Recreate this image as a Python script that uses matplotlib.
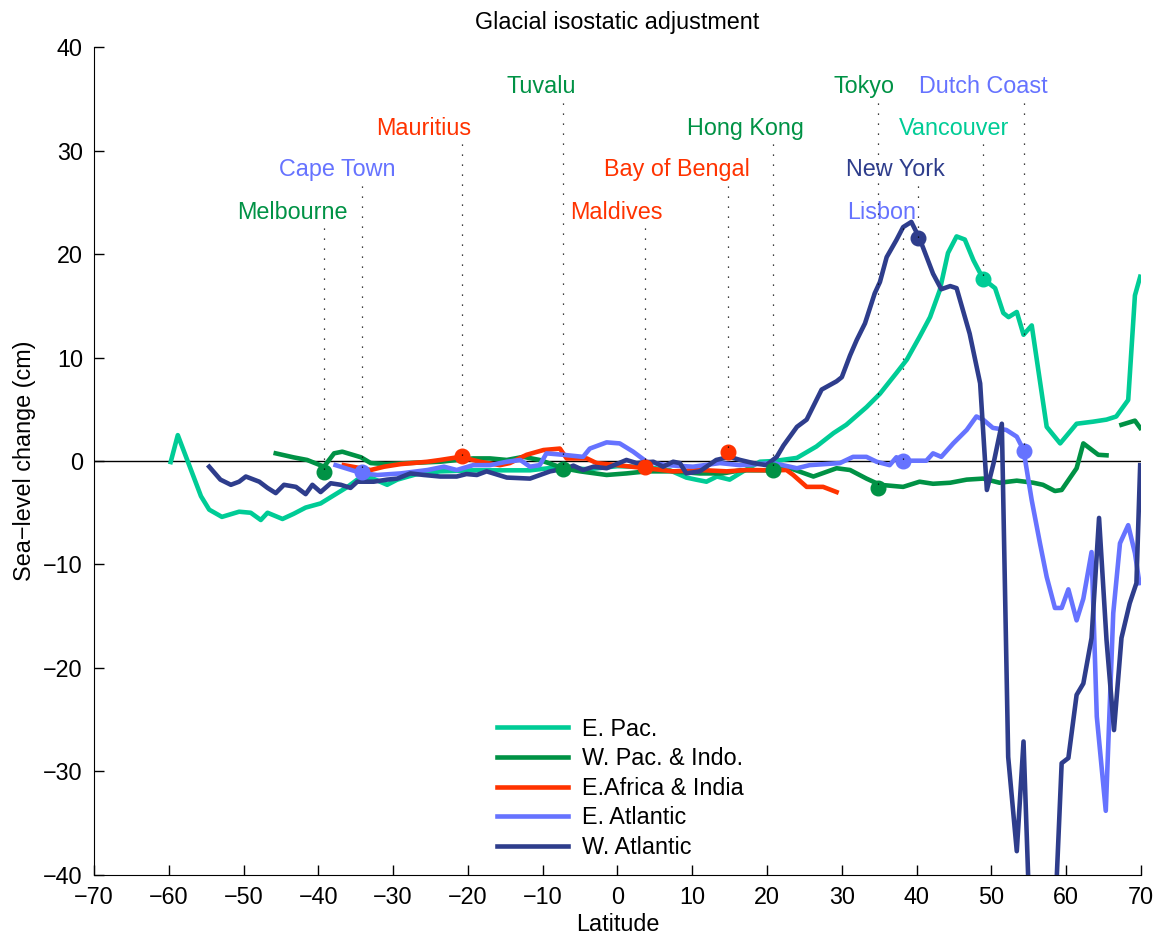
import numpy as np
import matplotlib
matplotlib.use('Agg')
import matplotlib.pyplot as plt

plt.rcParams['font.family'] = ['Liberation Sans', 'DejaVu Sans']
plt.rcParams['font.size'] = 16.8

# series: latitude / sea-level change (cm)
epac_lat = [-59.75, -58.8, -55.7, -54.6, -52.9, -50.6, -49.05, -47.7, -46.8, -44.8, -43.3, -41.7,
            -39.7, -37.9, -36.1, -34.8, -33.0, -30.8, -29.45, -27.0, -23.7, -19.3, -14.8, -11.7,
            -8.0, -4.0, 0.0, 4.0, 7.0, 9.2, 10.5, 11.9, 13.3, 15.0, 16.8, 19.05, 21.0, 24.0, 26.6,
            28.9, 30.6, 33.3, 35.1, 37.3, 38.7, 40.4, 41.8, 43.1, 44.2, 45.35, 46.45, 47.6, 48.9,
            50.5, 51.6, 52.3, 53.4, 54.3, 55.4, 57.4, 59.2, 61.4, 63.6, 65.4, 66.7, 68.3, 69.2, 69.9]
epac_val = [-0.1, 2.5, -3.4, -4.7, -5.4, -4.9, -5.0, -5.7, -5.0, -5.6, -5.1, -4.5,
            -4.1, -3.3, -2.5, -1.8, -1.6, -2.3, -1.8, -1.3, -1.0, -0.9, -0.9, -0.9,
            -0.6, -0.8, -0.5, -0.6, -0.9, -1.6, -1.8, -2.0, -1.5, -1.8, -1.0, -0.07, 0.0, 0.3, 1.4,
            2.7, 3.5, 5.2, 6.5, 8.5, 9.8, 12.0, 13.9, 16.5, 20.1, 21.7, 21.4, 19.4, 17.6,
            16.7, 14.3, 13.9, 14.4, 12.2, 13.1, 3.3, 1.7, 3.6, 3.8, 4.0, 4.3, 5.9, 16.0, 17.8]

wpac_lat = [-45.7, -43.3, -41.5, -39.25, -37.9, -36.8, -34.3, -33.0, -31.0, -28.0, -23.7, -19.3,
            -17.05, -14.8, -12.6, -10.4, -7.25, -5.0, -1.45, 1.2, 3.9, 7.45, 11.0, 14.1, 16.4,
            20.8, 23.1, 26.2, 29.3, 31.1, 33.3, 35.1, 38.2, 40.4, 42.2, 44.5, 46.7, 48.9, 51.1,
            53.4, 55.6, 56.9, 58.5, 59.4, 61.4, 62.3, 64.3, 65.4, np.nan, 67.4, 69.2, 69.9]
wpac_val = [0.74, 0.35, 0.1, -0.55, 0.74, 0.9, 0.36, -0.2, -0.3, -0.2, -0.07, 0.25,
            0.25, 0.1, 0.4, 0.1, -0.7, -1.0, -1.35, -1.2, -1.0, -1.0, -1.2, -1.2, -0.9,
            -0.9, -0.7, -1.5, -0.7, -0.87, -1.7, -2.3, -2.5, -2.0, -2.2, -2.1, -1.8, -1.7, -2.1,
            -1.9, -2.1, -2.3, -2.9, -2.8, -0.7, 1.7, 0.6, 0.55, np.nan, 3.5, 3.9, 3.2]

eafr_lat = [-36.6, -33.0, -31.2, -29.0, -25.4, -23.7, -21.05, -18.4, -15.7, -14.4, -12.15, -9.9,
            -7.7, -6.8, -4.1, -2.8, -0.1, 3.9, 7.45, 11.0, 14.6, 17.3, 20.8, 22.6, 23.5, 25.3,
            27.5, 29.3]
eafr_val = [-0.4, -0.87, -0.55, -0.3, -0.07, 0.1, 0.4, -0.07, -0.4, -0.2, 0.6, 1.06,
            1.2, 0.25, 0.25, -0.2, -0.4, -0.7, -1.0, -0.87, -1.0, -0.87, -0.9, -0.87, -1.35, -2.5,
            -2.5, -3.0]

eatl_lat = [-37.7, -34.1, -32.1, -29.0, -25.4, -23.2, -21.5, -19.3, -17.05, -14.8, -13.0, -11.7,
            -10.4, -9.5, -7.25, -4.6, -3.7, -1.45, 0.3, 2.1, 3.9, 6.55, 10.1, 13.7, 16.4, 20.8,
            24.0, 25.7, 29.75, 31.5, 33.3, 34.65, 36.4, 37.3, 38.2, 41.3, 42.2, 43.3, 44.9, 46.7,
            48.0, 48.9, 50.2, 52.0, 53.4, 54.3, 55.4, 56.5, 57.4, 58.5, 59.4, 60.3, 61.4, 62.3,
            63.4, 64.1, 65.3, 66.3, 67.2, 68.3, 69.2, 69.8]
eatl_val = [-0.4, -1.2, -1.35, -1.2, -0.87, -0.55, -0.87, -0.4, -0.4, -0.07, 0.1, -0.55,
            -0.4, 0.74, 0.6, 0.4, 1.2, 1.8, 1.7, 0.9, -0.07, -0.4, -0.55, -0.2, -0.4, -0.2,
            -0.7, -0.4, -0.2, 0.4, 0.4, -0.07, -0.4, 0.36, 0.03, 0.03, 0.74, 0.4, 1.7, 3.0,
            4.3, 4.0, 3.2, 3.0, 2.35, 1.06, -3.8, -7.95, -11.2, -14.2, -14.2, -12.4, -15.4, -13.3,
            -8.8, -24.7, -33.8, -14.7, -7.95, -6.2, -8.9, -11.8]

watl_lat = [-54.6, -53.1, -51.7, -50.6, -49.7, -47.9, -46.8, -45.7, -44.6, -43.0, -41.7, -40.8,
            -39.7, -38.35, -37.0, -35.7, -34.8, -32.6, -30.8, -29.45, -27.7, -25.9, -23.7, -21.5,
            -20.2, -18.8, -17.5, -14.8, -11.7, -9.0, -6.8, -5.9, -4.6, -3.2, -1.45, 1.2, 2.55,
            4.8, 6.1, 7.45, 8.35, 9.2, 11.0, 13.2, 15.0, 16.4, 18.15, 19.9, 21.3, 22.2, 24.0,
            25.3, 27.3, 29.3, 30.0, 31.1, 32.0, 33.1, 34.4, 35.1, 36.0, 37.3, 38.2, 39.3, 40.4,
            42.2, 43.3, 44.5, 45.35, 47.1, 48.5, 49.4, 50.3, 51.4, 52.25, 53.4, 54.3, 55.2, 58.4,
            59.4, 60.3, 61.4, 62.3, 63.4, 64.4, 65.4, 66.4, 67.4, 68.5, 69.4, 69.9]
watl_val = [-0.55, -1.8, -2.3, -2.0, -1.5, -2.0, -2.6, -3.1, -2.3, -2.5, -3.2, -2.3,
            -3.0, -2.15, -2.3, -2.6, -2.0, -2.0, -1.8, -1.7, -1.2, -1.35, -1.5, -1.5,
            -1.26, -1.35, -1.0, -1.6, -1.7, -1.0, -0.7, -0.45, -0.87, -0.55, -0.7, 0.1, -0.2,
            -0.07, -0.55, -0.07, -0.2, -1.2, -1.0, 0.1, 0.4, 0.1, -0.2, -0.4, 0.4, 1.5, 3.3,
            4.0, 6.9, 7.7, 8.1, 10.2, 11.7, 13.3, 16.2, 17.3, 19.7, 21.35, 22.6, 23.1, 21.5,
            18.1, 16.6, 16.9, 16.7, 12.3, 7.5, -2.8, -0.2, 3.6, -28.6, -37.7, -27.1, -46.0, -46.0,
            -29.2, -28.7, -22.6, -21.5, -17.1, -5.5, -17.3, -26.0, -17.1, -13.75, -11.8, -0.4]

series_names = ['E. Pac.', 'W. Pac. & Indo.', 'E.Africa & India', 'E. Atlantic', 'W. Atlantic']
series_colors = ['#00cc96', '#009245', '#ff3300', '#6673ff', '#2e3d8c']

# tide-gauge sites: name, latitude, value, series index, label row
sites = ['Melbourne', 'Cape Town', 'Mauritius', 'Tuvalu', 'Maldives', 'Bay of Bengal',
         'Hong Kong', 'Tokyo', 'Lisbon', 'New York', 'Vancouver', 'Dutch Coast']
site_lat = [-39.25, -34.2, -20.8, -7.3, 3.7, 14.8, 20.8, 34.8, 38.2, 40.2, 48.9, 54.35]
site_val = [-1.06, -1.1, 0.5, -0.8, -0.6, 0.9, -0.85, -2.6, 0.0, 21.5, 17.6, 1.0]
site_series = [1, 3, 2, 1, 2, 2, 1, 1, 3, 4, 0, 3]
site_row = [0, 1, 2, 3, 0, 1, 2, 3, 0, 1, 2, 3]
row_levels = [22.5, 26.6, 30.6, 34.6]
# horizontal nudge of each label's right edge past its guide line (degrees)
label_dx = [3.2, 4.5, 1.3, 1.7, 2.3, 2.9, 4.1, 2.3, 1.7, 3.5, 3.5, 3.2]

fig = plt.figure(figsize=(11.61, 9.35), dpi=100)
ax = fig.add_axes([0.081, 0.0642, 0.9017, 0.8855])

all_lat = [epac_lat, wpac_lat, eafr_lat, eatl_lat, watl_lat]
all_val = [epac_val, wpac_val, eafr_val, eatl_val, watl_val]
for lat, val, name, c in zip(all_lat, all_val, series_names, series_colors):
    ax.plot(lat, val, color=c, lw=3.3, label=name, solid_joinstyle='round', zorder=3)

ax.axhline(0, color='black', lw=1.0, zorder=2)

for i in range(len(sites)):
    c = series_colors[site_series[i]]
    ax.plot(site_lat[i], site_val[i], 'o', color=c, ms=10.5, zorder=4)
    top = row_levels[site_row[i]]
    ax.plot([site_lat[i], site_lat[i]], [top, site_val[i]], color='black',
            lw=0.9, linestyle=(0, (1, 7)), zorder=5)
    ax.text(site_lat[i] + label_dx[i], top + 1.55, sites[i], color=c, ha='right', va='center')

ax.set_xlim(-70, 70)
ax.set_ylim(-40, 40)
ax.set_xticks(np.arange(-70, 71, 10))
ax.set_yticks(np.arange(-40, 41, 10))
ax.tick_params(direction='in', length=7, width=1, pad=8)
ax.spines['top'].set_visible(False)
ax.spines['right'].set_visible(False)

ax.set_title('Glacial isostatic adjustment', fontsize=16.8, pad=13)
ax.set_xlabel('Latitude', labelpad=3)
ax.set_ylabel('Sea\u2212level change (cm)', labelpad=5)

ax.legend(loc='upper left', bbox_to_anchor=(0.385, 0.19), frameon=False,
          borderpad=0, borderaxespad=0, handlelength=3.05, handletextpad=0.6,
          labelspacing=0.28)

fig.savefig('out.png', dpi=100)
